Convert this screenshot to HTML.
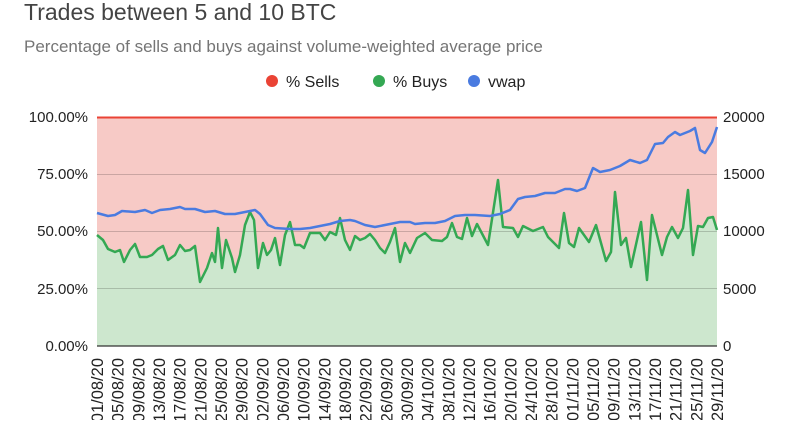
<!DOCTYPE html>
<html><head><meta charset="utf-8"><style>
body{margin:0;background:#fff;width:800px;height:420px;overflow:hidden;font-family:"Liberation Sans",sans-serif}
</style></head><body>
<svg width="800" height="420" xmlns="http://www.w3.org/2000/svg" font-family="Liberation Sans, sans-serif">
<text x="24" y="20" font-size="23" fill="#444">Trades between 5 and 10 BTC</text>
<text x="24" y="52" font-size="17" fill="#757575">Percentage of sells and buys against volume-weighted average price</text>
<circle cx="272" cy="81" r="6" fill="#ea4335"/><text x="286" y="87" font-size="16" fill="#222">% Sells</text>
<circle cx="379" cy="81" r="6" fill="#34a853"/><text x="393" y="87" font-size="16" fill="#222">% Buys</text>
<circle cx="474" cy="81" r="6" fill="#4a7be0"/><text x="488" y="87" font-size="16" fill="#222">vwap</text>
<rect x="97" y="117" width="620" height="229" fill="#f7cac6"/>
<polygon fill="#cde7ce" points="97,346 97,235 103,240 108,249 115,252 120,250 124,262 130,250 135,244 140,257 147,257 152,255 158,249 163,246 168,260 175,255 180,245 185,251 190,250 195,246 200,282 207,268 212,253 215,262 218,228 222,268 226,240 232,258 235,272 240,255 245,225 250,212 254,220 258,268 263,243 267,255 271,250 275,238 280,265 285,235 290,222 295,245 300,245 304,248 310,233 315,233 320,233 325,240 330,232 336,235 340,218 345,240 350,250 355,236 360,240 365,238 370,234 375,240 380,248 385,253 390,242 395,228 400,262 405,243 410,253 417,238 425,233 432,240 442,241 447,237 452,223 457,237 462,239 467,218 472,236 477,224 488,245 498,180 503,227 513,228 518,237 523,226 533,231 543,227 548,237 559,248 564,213 569,243 574,247 579,228 589,242 596,225 606,261 611,252 615,192 621,245 626,238 631,267 641,222 647,280 652,215 662,255 667,237 672,227 678,238 683,228 688,190 693,255 698,226 703,227 708,218 713,217 717,230 717,346"/>
<g stroke="#000" stroke-opacity="0.18" stroke-width="1">
<line x1="97" y1="174.5" x2="717" y2="174.5"/><line x1="97" y1="231.5" x2="717" y2="231.5"/><line x1="97" y1="288.5" x2="717" y2="288.5"/>
</g>
<line x1="97" y1="346" x2="717" y2="346" stroke="#333" stroke-width="1.2"/>
<line x1="97" y1="117.5" x2="717" y2="117.5" stroke="#ea4335" stroke-width="2"/>
<polyline fill="none" stroke="#34a853" stroke-width="2.5" stroke-linejoin="round" points="97,235 103,240 108,249 115,252 120,250 124,262 130,250 135,244 140,257 147,257 152,255 158,249 163,246 168,260 175,255 180,245 185,251 190,250 195,246 200,282 207,268 212,253 215,262 218,228 222,268 226,240 232,258 235,272 240,255 245,225 250,212 254,220 258,268 263,243 267,255 271,250 275,238 280,265 285,235 290,222 295,245 300,245 304,248 310,233 315,233 320,233 325,240 330,232 336,235 340,218 345,240 350,250 355,236 360,240 365,238 370,234 375,240 380,248 385,253 390,242 395,228 400,262 405,243 410,253 417,238 425,233 432,240 442,241 447,237 452,223 457,237 462,239 467,218 472,236 477,224 488,245 498,180 503,227 513,228 518,237 523,226 533,231 543,227 548,237 559,248 564,213 569,243 574,247 579,228 589,242 596,225 606,261 611,252 615,192 621,245 626,238 631,267 641,222 647,280 652,215 662,255 667,237 672,227 678,238 683,228 688,190 693,255 698,226 703,227 708,218 713,217 717,230"/>
<polyline fill="none" stroke="#4a7be0" stroke-width="2.5" stroke-linejoin="round" points="97,213 108,216 115,215 122,211 135,212 145,210 152,213 160,210 170,209 180,207 185,209 195,209 205,212 215,211 225,214 235,214 245,212 255,210 260,214 268,225 275,228 290,229 300,229 310,228 320,226 330,224 340,221 350,220 355,221 365,225 375,227 390,224 400,222 410,222 415,224 425,223 435,223 445,221 455,216 465,215 475,215 490,216 500,214 510,210 518,199 525,197 535,196 545,193 555,193 565,189 570,189 577,191 585,188 593,168 600,172 610,170 620,166 630,160 640,163 647,160 655,144 663,143 668,137 675,132 680,135 690,131 695,128 700,150 705,153 712,142 717,127"/>
<g font-size="15" fill="#222" text-anchor="end">
<text x="88" y="122">100.00%</text><text x="88" y="179">75.00%</text><text x="88" y="236">50.00%</text><text x="88" y="294">25.00%</text><text x="88" y="351">0.00%</text>
</g>
<g font-size="15" fill="#222">
<text x="723" y="122">20000</text><text x="723" y="179">15000</text><text x="723" y="236">10000</text><text x="723" y="294">5000</text><text x="723" y="351">0</text>
</g>
<g font-size="16.5" fill="#222" text-anchor="end">
<text transform="translate(103,358) rotate(-90)">01/08/20</text>
<text transform="translate(123.7,358) rotate(-90)">05/08/20</text>
<text transform="translate(144.3,358) rotate(-90)">09/08/20</text>
<text transform="translate(165,358) rotate(-90)">13/08/20</text>
<text transform="translate(185.7,358) rotate(-90)">17/08/20</text>
<text transform="translate(206.3,358) rotate(-90)">21/08/20</text>
<text transform="translate(227,358) rotate(-90)">25/08/20</text>
<text transform="translate(247.7,358) rotate(-90)">29/08/20</text>
<text transform="translate(268.3,358) rotate(-90)">02/09/20</text>
<text transform="translate(289,358) rotate(-90)">06/09/20</text>
<text transform="translate(309.7,358) rotate(-90)">10/09/20</text>
<text transform="translate(330.3,358) rotate(-90)">14/09/20</text>
<text transform="translate(351,358) rotate(-90)">18/09/20</text>
<text transform="translate(371.7,358) rotate(-90)">22/09/20</text>
<text transform="translate(392.3,358) rotate(-90)">26/09/20</text>
<text transform="translate(413,358) rotate(-90)">30/09/20</text>
<text transform="translate(433.7,358) rotate(-90)">04/10/20</text>
<text transform="translate(454.3,358) rotate(-90)">08/10/20</text>
<text transform="translate(475,358) rotate(-90)">12/10/20</text>
<text transform="translate(495.7,358) rotate(-90)">16/10/20</text>
<text transform="translate(516.3,358) rotate(-90)">20/10/20</text>
<text transform="translate(537,358) rotate(-90)">24/10/20</text>
<text transform="translate(557.7,358) rotate(-90)">28/10/20</text>
<text transform="translate(578.3,358) rotate(-90)">01/11/20</text>
<text transform="translate(599,358) rotate(-90)">05/11/20</text>
<text transform="translate(619.7,358) rotate(-90)">09/11/20</text>
<text transform="translate(640.3,358) rotate(-90)">13/11/20</text>
<text transform="translate(661,358) rotate(-90)">17/11/20</text>
<text transform="translate(681.7,358) rotate(-90)">21/11/20</text>
<text transform="translate(702.3,358) rotate(-90)">25/11/20</text>
<text transform="translate(723,358) rotate(-90)">29/11/20</text>
</g>
</svg>
</body></html>
